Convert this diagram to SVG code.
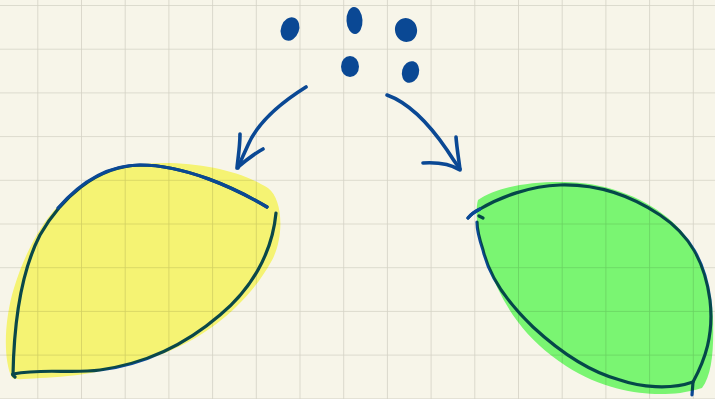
<svg xmlns="http://www.w3.org/2000/svg" width="715" height="399" viewBox="0 0 715 399">
  <style>
    .ink { fill: none; stroke: #0a4894; stroke-width: 3.2; stroke-linecap: round; stroke-linejoin: round; }
    .arrow { fill: none; stroke: #0a4894; stroke-width: 3.6; stroke-linecap: round; stroke-linejoin: round; }
    .dot { fill: #0a4894; }
    .hl { mix-blend-mode: multiply; stroke: none; }
  </style>
  <defs>
    <pattern id="grid" patternUnits="userSpaceOnUse" x="-6.4" y="5" width="43.7" height="43.7">
      <path d="M0,0 H43.7 M0,0 V43.7" fill="none" stroke="#d4d2c5" stroke-width="1.6"/>
    </pattern>
  </defs>
  <rect width="715" height="399" fill="#f7f5e9"/>
  <rect width="715" height="399" fill="url(#grid)"/>

  <g id="seeds">
    <ellipse class="dot" cx="290" cy="29" rx="9" ry="12" transform="rotate(20 290 29)"/>
    <ellipse class="dot" cx="354.5" cy="20.5" rx="8" ry="13.5" transform="rotate(-3 354.5 20.5)"/>
    <ellipse class="dot" cx="406" cy="30" rx="11" ry="12" transform="rotate(-15 406 30)"/>
    <ellipse class="dot" cx="350" cy="66.5" rx="9" ry="10.5"/>
    <ellipse class="dot" cx="410.5" cy="72" rx="8.5" ry="11" transform="rotate(15 410.5 72)"/>
  </g>

  <g id="leaf-yellow">
    <path class="ink" d="M267,207 C235,188 185,165 140,165 C95,166 60,200 40,235 C22,270 14,320 13,375"/>
    <path class="ink" d="M15,377 C13,375 12,374 13,374 C45,368 70,374 100,370 C145,364 185,345 220,315 C250,290 272,255 276,213"/>
    <path class="hl" fill="#fdfd7e" d="M12,378 C3,360 4,320 14,288 C24,255 40,225 58,206 C80,183 110,168 143,164 C190,160 240,170 268,188 C284,200 284,240 271,262 C250,300 212,334 165,353 C120,370 75,377 40,378 C25,379 16,380 12,378 Z"/>
    <path class="ink" d="M267,207 C235,188 185,165 140,165 C105,165 78,185 58,208"/>
  </g>

  <g id="leaf-green">
    <path class="ink" d="M468,218 Q472,213 480,209 C500,197 530,186 560,185 C595,184 630,195 660,215 C690,235 705,262 710,300 C714,335 705,360 693,382 L692,395"/>
    <path class="ink" d="M693,382 C670,390 640,387 620,380 C590,372 560,352 533,327 C510,305 490,280 483,250 C478,235 477,228 477,222"/>
    <path class="ink" d="M479,216 L483,218"/>
    <path class="hl" fill="#7eff7d" d="M478,200 C495,188 525,182 560,182 C600,181 640,195 668,218 C698,243 711,278 713,318 C714,350 712,375 702,388 C685,393 675,394 660,394 C635,394 600,388 566,366 C545,352 530,338 518,322 C505,305 495,285 487,262 C479,240 474,215 478,200 Z"/>
    <path class="ink" d="M468,218 Q472,213 480,209"/>
  </g>

  <g id="connectors">
    <path class="arrow" d="M306,87 C282,102 258,122 248,145 C244,154 240,162 238,168"/>
    <path class="arrow" d="M240,134 C240,146 238,158 237,168 C245,161 254,154 263,149"/>
    <path class="arrow" d="M387,95 C412,104 432,128 447,150 C452,158 457,165 460,169"/>
    <path class="arrow" d="M456,137 C457,150 459,160 460,170 C452,165 440,162 423,163"/>
  </g>
</svg>
